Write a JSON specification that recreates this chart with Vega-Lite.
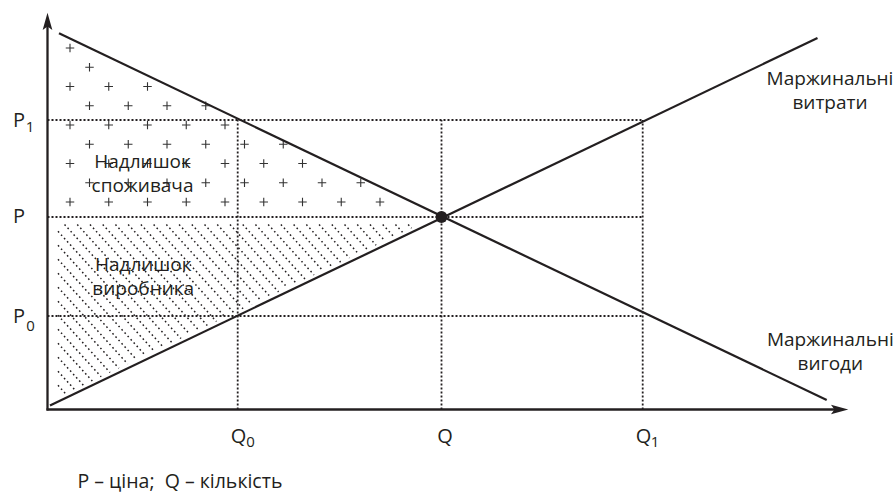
{
  "$schema": "https://vega.github.io/schema/vega-lite/v6.json",
  "width": 896,
  "height": 493,
  "padding": 0,
  "autosize": {"type": "fit", "contains": "padding"},
  "background": "white",
  "config": {"view": {"stroke": null}},
  "datasets": {
    "hatch": [
      {"x": 0.105, "y": 0.242, "x2": 0.1821, "y2": 0.1572},
      {"x": 0.105, "y": 0.382, "x2": 0.2708, "y2": 0.1997},
      {"x": 0.105, "y": 0.522, "x2": 0.3594, "y2": 0.2421},
      {"x": 0.105, "y": 0.662, "x2": 0.4481, "y2": 0.2846},
      {"x": 0.105, "y": 0.802, "x2": 0.5368, "y2": 0.327},
      {"x": 0.105, "y": 0.942, "x2": 0.6255, "y2": 0.3695},
      {"x": 0.105, "y": 1.082, "x2": 0.7141, "y2": 0.4119},
      {"x": 0.105, "y": 1.222, "x2": 0.8028, "y2": 0.4544},
      {"x": 0.105, "y": 1.362, "x2": 0.8915, "y2": 0.4969},
      {"x": 0.105, "y": 1.502, "x2": 0.9802, "y2": 0.5393},
      {"x": 0.105, "y": 1.642, "x2": 1.0688, "y2": 0.5818},
      {"x": 0.105, "y": 1.782, "x2": 1.1575, "y2": 0.6243},
      {"x": 0.1705, "y": 1.85, "x2": 1.2462, "y2": 0.6667},
      {"x": 0.2977, "y": 1.85, "x2": 1.3348, "y2": 0.7092},
      {"x": 0.425, "y": 1.85, "x2": 1.4235, "y2": 0.7516},
      {"x": 0.5523, "y": 1.85, "x2": 1.5122, "y2": 0.7941},
      {"x": 0.6795, "y": 1.85, "x2": 1.6009, "y2": 0.8365},
      {"x": 0.8068, "y": 1.85, "x2": 1.6895, "y2": 0.879},
      {"x": 0.9341, "y": 1.85, "x2": 1.7782, "y2": 0.9215},
      {"x": 1.0614, "y": 1.85, "x2": 1.8669, "y2": 0.9639},
      {"x": 1.1886, "y": 1.85, "x2": 1.9556, "y2": 1.0064},
      {"x": 1.3159, "y": 1.85, "x2": 2.0442, "y2": 1.0488},
      {"x": 1.4432, "y": 1.85, "x2": 2.1329, "y2": 1.0913},
      {"x": 1.5705, "y": 1.85, "x2": 2.2216, "y2": 1.1338},
      {"x": 1.6977, "y": 1.85, "x2": 2.3103, "y2": 1.1762},
      {"x": 1.825, "y": 1.85, "x2": 2.3989, "y2": 1.2187},
      {"x": 1.9523, "y": 1.85, "x2": 2.4876, "y2": 1.2611},
      {"x": 2.0795, "y": 1.85, "x2": 2.5763, "y2": 1.3036},
      {"x": 2.2068, "y": 1.85, "x2": 2.6649, "y2": 1.346},
      {"x": 2.3341, "y": 1.85, "x2": 2.7536, "y2": 1.3885},
      {"x": 2.4614, "y": 1.85, "x2": 2.8423, "y2": 1.431},
      {"x": 2.5886, "y": 1.85, "x2": 2.931, "y2": 1.4735},
      {"x": 2.7159, "y": 1.85, "x2": 3.0196, "y2": 1.5159},
      {"x": 2.8432, "y": 1.85, "x2": 3.1083, "y2": 1.5584},
      {"x": 2.9705, "y": 1.85, "x2": 3.197, "y2": 1.6008},
      {"x": 3.0977, "y": 1.85, "x2": 3.2857, "y2": 1.6433},
      {"x": 3.225, "y": 1.85, "x2": 3.3743, "y2": 1.6857},
      {"x": 3.3523, "y": 1.85, "x2": 3.463, "y2": 1.7282},
      {"x": 3.4795, "y": 1.85, "x2": 3.5517, "y2": 1.7706},
      {"x": 3.6068, "y": 1.85, "x2": 3.6404, "y2": 1.8131}
    ],
    "guides": [
      {"x": 0, "y": 0.935, "x2": 5.952, "y2": 0.935},
      {"x": 0, "y": 1.925, "x2": 5.952, "y2": 1.925},
      {"x": 0, "y": 2.895, "x2": 5.952, "y2": 2.895},
      {"x": 1.902, "y": 0, "x2": 1.902, "y2": 2.895},
      {"x": 3.94, "y": 0, "x2": 3.94, "y2": 2.895},
      {"x": 5.952, "y": 0, "x2": 5.952, "y2": 2.895}
    ],
    "pluses": [
      {"x": 0.225, "y": 3.615},
      {"x": 0.42, "y": 3.4225},
      {"x": 0.225, "y": 3.23}, {"x": 0.6125, "y": 3.23}, {"x": 1.0, "y": 3.23},
      {"x": 0.42, "y": 3.0375}, {"x": 0.8075, "y": 3.0375}, {"x": 1.195, "y": 3.0375}, {"x": 1.5825, "y": 3.0375},
      {"x": 0.225, "y": 2.845}, {"x": 0.6125, "y": 2.845}, {"x": 1.0, "y": 2.845}, {"x": 1.3875, "y": 2.845}, {"x": 1.775, "y": 2.845},
      {"x": 0.42, "y": 2.6525}, {"x": 0.8075, "y": 2.6525}, {"x": 1.195, "y": 2.6525}, {"x": 1.5825, "y": 2.6525}, {"x": 1.97, "y": 2.6525}, {"x": 2.3575, "y": 2.6525},
      {"x": 0.225, "y": 2.46}, {"x": 0.6125, "y": 2.46}, {"x": 1.0, "y": 2.46}, {"x": 1.3875, "y": 2.46}, {"x": 1.775, "y": 2.46}, {"x": 2.1625, "y": 2.46}, {"x": 2.55, "y": 2.46},
      {"x": 0.42, "y": 2.2675}, {"x": 0.8075, "y": 2.2675}, {"x": 1.195, "y": 2.2675}, {"x": 1.5825, "y": 2.2675}, {"x": 1.97, "y": 2.2675}, {"x": 2.3575, "y": 2.2675}, {"x": 2.745, "y": 2.2675}, {"x": 3.1325, "y": 2.2675},
      {"x": 0.225, "y": 2.075}, {"x": 0.6125, "y": 2.075}, {"x": 1.0, "y": 2.075}, {"x": 1.3875, "y": 2.075}, {"x": 1.775, "y": 2.075}, {"x": 2.1625, "y": 2.075}, {"x": 2.55, "y": 2.075}, {"x": 2.9375, "y": 2.075}, {"x": 3.325, "y": 2.075}
    ],
    "curves": [
      {"name": "Маржинальні витрати", "x": 0.025, "y": 0.04, "x2": 7.7, "y2": 3.715},
      {"name": "Маржинальні вигоди", "x": 0.115, "y": 3.762, "x2": 7.792, "y2": 0.095}
    ],
    "axes": [
      {"x": -0.01, "y": 0, "x2": 7.88, "y2": 0},
      {"x": 0, "y": -0.01, "x2": 0, "y2": 3.84}
    ],
    "equilibrium": [{"x": 3.94, "y": 1.925}],
    "letters": [
      {"x": -0.285, "y": 2.825, "t": "P"},
      {"x": -0.285, "y": 1.865, "t": "P"},
      {"x": -0.285, "y": 0.865, "t": "P"},
      {"x": 1.91, "y": -0.335, "t": "Q"},
      {"x": 3.975, "y": -0.335, "t": "Q"},
      {"x": 5.96, "y": -0.335, "t": "Q"}
    ],
    "labels": [
      {"x": 7.825, "y": 3.245, "t": "Маржинальні\nвитрати"},
      {"x": 7.828, "y": 0.64, "t": "Маржинальні\nвигоди"},
      {"x": 0.95, "y": 2.412, "t": "Надлишок\nспоживача"},
      {"x": 0.957, "y": 1.388, "t": "Надлишок\nвиробника"}
    ],
    "subs": [
      {"x": -0.175, "y": 2.775, "t": "1"},
      {"x": -0.17, "y": 0.785, "t": "0"},
      {"x": 2.03, "y": -0.372, "t": "0"},
      {"x": 6.075, "y": -0.372, "t": "1"}
    ],
    "note": [{"x": 0.3, "y": -0.785, "t": "P – ціна;\u00a0 Q – кількість"}]
  },
  "encoding": {
    "x": {"field": "x", "type": "quantitative", "axis": null, "scale": {"domain": [-0.475, 8.485], "nice": false, "zero": false}},
    "y": {"field": "y", "type": "quantitative", "axis": null, "scale": {"domain": [-0.835, 4.095], "nice": false, "zero": false}}
  },
  "layer": [
    {
      "data": {"name": "hatch"},
      "mark": {"type": "rule", "color": "#231f20", "strokeWidth": 1.5, "strokeDash": [1.6, 2.9], "strokeCap": "butt"},
      "encoding": {"x2": {"field": "x2"}, "y2": {"field": "y2"}}
    },
    {
      "data": {"name": "guides"},
      "mark": {"type": "rule", "color": "#231f20", "strokeWidth": 1.8, "strokeDash": [2, 2], "strokeCap": "butt"},
      "encoding": {"x2": {"field": "x2"}, "y2": {"field": "y2"}}
    },
    {
      "data": {"name": "pluses"},
      "mark": {"type": "point", "shape": "M-1,0L1,0M0,-1L0,1", "filled": false, "stroke": "#333333", "strokeWidth": 1.1, "size": 72, "opacity": 1}
    },
    {
      "data": {"name": "curves"},
      "mark": {"type": "rule", "color": "#231f20", "strokeWidth": 2.2, "strokeCap": "butt"},
      "encoding": {"x2": {"field": "x2"}, "y2": {"field": "y2"}}
    },
    {
      "data": {"name": "axes"},
      "mark": {"type": "rule", "color": "#231f20", "strokeWidth": 2.3, "strokeCap": "butt"},
      "encoding": {"x2": {"field": "x2"}, "y2": {"field": "y2"}}
    },
    {
      "data": {"values": [{"x": 0, "y": 3.968}]},
      "mark": {"type": "point", "shape": "M0,0L0.56,2L0,1.6L-0.56,2Z", "filled": true, "color": "#231f20", "size": 300, "opacity": 1, "angle": 0}
    },
    {
      "data": {"values": [{"x": 8.008, "y": 0}]},
      "mark": {"type": "point", "shape": "M0,0L0.56,2L0,1.6L-0.56,2Z", "filled": true, "color": "#231f20", "size": 300, "opacity": 1, "angle": 90}
    },
    {
      "data": {"name": "equilibrium"},
      "mark": {"type": "point", "shape": "circle", "filled": true, "color": "#231f20", "size": 140, "opacity": 1}
    },
    {
      "data": {"name": "letters"},
      "mark": {"type": "text", "align": "center", "baseline": "alphabetic", "font": "Open Sans", "fontSize": 20, "color": "#231f20"},
      "encoding": {"text": {"field": "t"}}
    },
    {
      "data": {"name": "labels"},
      "mark": {"type": "text", "align": "center", "baseline": "alphabetic", "font": "Open Sans", "fontSize": 19, "lineBreak": "\n", "lineHeight": 24, "color": "#231f20"},
      "encoding": {"text": {"field": "t"}}
    },
    {
      "data": {"name": "subs"},
      "mark": {"type": "text", "align": "center", "baseline": "alphabetic", "font": "Open Sans", "fontSize": 15, "color": "#231f20"},
      "encoding": {"text": {"field": "t"}}
    },
    {
      "data": {"name": "note"},
      "mark": {"type": "text", "align": "left", "baseline": "alphabetic", "font": "Open Sans", "fontSize": 19.5, "color": "#231f20"},
      "encoding": {"text": {"field": "t"}}
    }
  ]
}
